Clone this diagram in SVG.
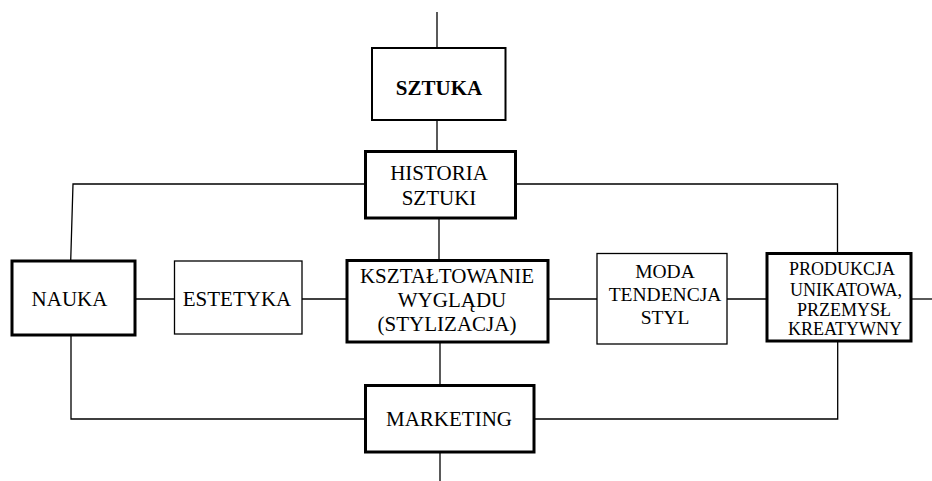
<svg xmlns="http://www.w3.org/2000/svg" width="932" height="481" viewBox="0 0 932 481">
  <style>
    .box { fill: #fff; stroke: #000; }
    .thin { stroke-width: 1.3; }
    .mid { stroke-width: 2; }
    .thick { stroke-width: 3; }
    .wire { fill: none; stroke: #000; stroke-width: 1.3; }
    text { font-family: "Liberation Serif", "Times New Roman", serif; font-size: 21px; fill: #000; text-anchor: middle; }
    .b { font-weight: bold; }
    .s18 { font-size: 18px; }
    .s20 { font-size: 19.5px; }
  </style>
  <rect width="932" height="481" fill="#fff"/>

  <g id="connectors">
    <line class="wire" x1="437" y1="12" x2="437" y2="48"/>
    <line class="wire" x1="437" y1="120" x2="437" y2="151"/>
    <polyline class="wire" points="365,184 73,184 70.7,261"/>
    <polyline class="wire" points="515,184 837.5,184 837.5,253"/>
    <line class="wire" x1="439" y1="218" x2="439" y2="260"/>
    <line class="wire" x1="135" y1="299" x2="174" y2="299"/>
    <line class="wire" x1="302" y1="299" x2="347" y2="299"/>
    <line class="wire" x1="548" y1="299" x2="597" y2="299"/>
    <line class="wire" x1="727" y1="299" x2="767" y2="299"/>
    <line class="wire" x1="911" y1="299" x2="932" y2="299"/>
    <line class="wire" x1="440" y1="342" x2="440" y2="385"/>
    <polyline class="wire" points="71,335 71,419 365,419"/>
    <polyline class="wire" points="837.7,341 837.7,419 534,419"/>
    <line class="wire" x1="440" y1="452" x2="440" y2="481"/>
  </g>

  <g id="sztuka">
    <rect class="box mid" x="372" y="48" width="133.5" height="72"/>
    <text class="b" x="439" y="94.5">SZTUKA</text>
  </g>

  <g id="historia-sztuki">
    <rect class="box thick" x="365.5" y="151.5" width="150" height="66.5"/>
    <text x="439" y="180">HISTORIA</text>
    <text x="439" y="205">SZTUKI</text>
  </g>

  <g id="nauka">
    <rect class="box thick" x="12" y="261" width="123" height="74"/>
    <text x="69.5" y="306">NAUKA</text>
  </g>

  <g id="estetyka">
    <rect class="box thin" x="174.5" y="261" width="127.5" height="73"/>
    <text x="237" y="306">ESTETYKA</text>
  </g>

  <g id="ksztaltowanie-wygladu">
    <rect class="box thick" x="347" y="260.5" width="201" height="81.5"/>
    <text x="447" y="282.5">KSZTAŁTOWANIE</text>
    <text x="452" y="306.5">WYGLĄDU</text>
    <text x="447" y="330.5">(STYLIZACJA)</text>
  </g>

  <g id="moda">
    <rect class="box thin" x="597" y="253.5" width="130" height="90.5"/>
    <text class="s20" x="665" y="277.5">MODA</text>
    <text class="s20" x="665" y="300.5">TENDENCJA</text>
    <text class="s20" x="665" y="323.5">STYL</text>
  </g>

  <g id="produkcja">
    <rect class="box thick" x="767" y="253.5" width="144" height="87.5"/>
    <text class="s18" x="842" y="275">PRODUKCJA</text>
    <text class="s18" x="846" y="296">UNIKATOWA,</text>
    <text class="s18" x="844" y="315.5">PRZEMYSŁ</text>
    <text class="s18" x="845" y="335">KREATYWNY</text>
  </g>

  <g id="marketing">
    <rect class="box thick" x="365.5" y="385.5" width="168.5" height="66.5"/>
    <text x="449" y="426">MARKETING</text>
  </g>
</svg>
